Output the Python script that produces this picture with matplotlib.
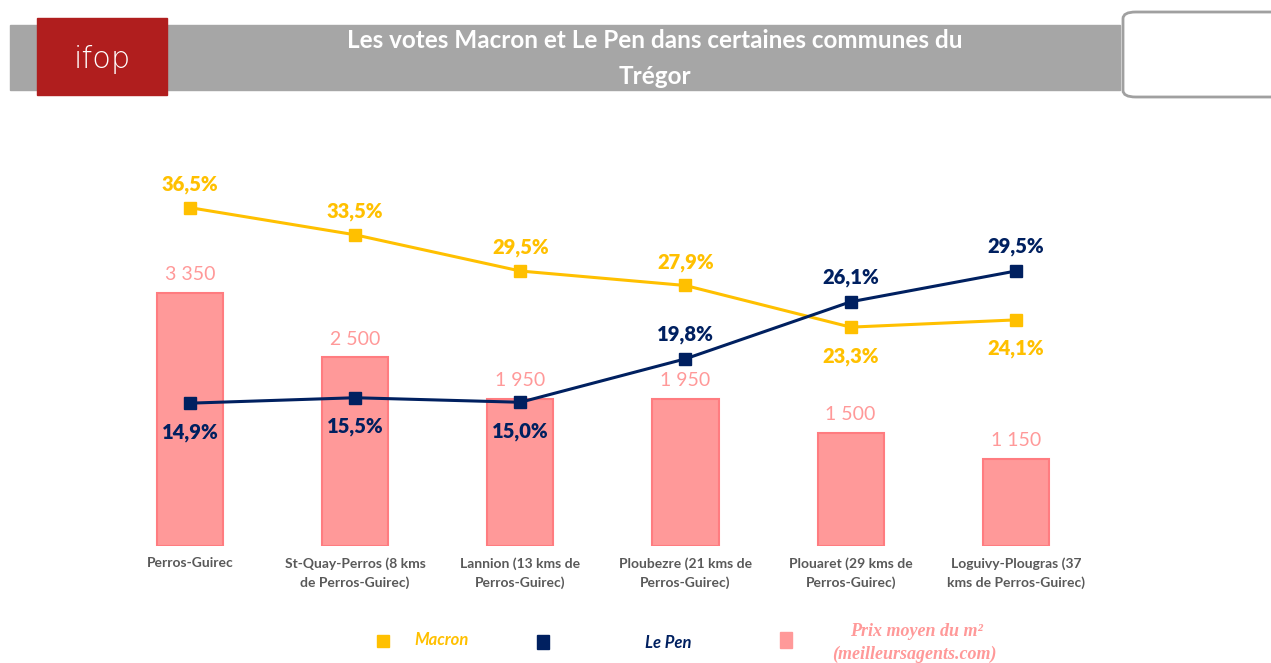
import matplotlib.pyplot as plt
from matplotlib.patches import Rectangle, FancyBboxPatch

plt.rcParams['font.family'] = ['Lato', 'DejaVu Sans']

communes = ['Perros-Guirec', 'St-Quay-Perros (8 kms\nde Perros-Guirec)',
            'Lannion (13 kms de\nPerros-Guirec)', 'Ploubezre (21 kms de\nPerros-Guirec)',
            'Plouaret (29 kms de\nPerros-Guirec)', 'Loguivy-Plougras (37\nkms de Perros-Guirec)']
prix = [3350, 2500, 1950, 1950, 1500, 1150]
prix_labels = ['3 350', '2 500', '1 950', '1 950', '1 500', '1 150']
macron = [36.5, 33.5, 29.5, 27.9, 23.3, 24.1]
lepen = [14.9, 15.5, 15.0, 19.8, 26.1, 29.5]
macron_above = [True, True, True, True, False, False]
lepen_above = [False, False, False, True, True, True]

c_macron = '#FFC000'
c_lepen = '#002060'
c_bar = '#FF9999'
c_edge = '#FF7C80'

fig = plt.figure(figsize=(12.71, 6.63), dpi=100)
W, H = 1271, 663

def fx(px):
    return px / W

def fy(py):
    return 1 - py / H

# header
fig.patches.append(Rectangle((fx(10), fy(90)), fx(1110), (90 - 25) / H,
                             transform=fig.transFigure, color='#A6A6A6', zorder=0))
fig.patches.append(Rectangle((fx(37), fy(95)), fx(130), (95 - 18) / H,
                             transform=fig.transFigure, color='#B01E1E', zorder=1))
fig.patches.append(FancyBboxPatch((fx(1123), fy(97)), fx(160), (97 - 12) / H,
                                  boxstyle='round,pad=0,rounding_size=0.01',
                                  transform=fig.transFigure, facecolor='white',
                                  edgecolor='#A0A0A0', linewidth=2, zorder=1))
fig.text(fx(102), fy(60), 'ifop', color='white', fontsize=22, ha='center', va='center',
         family='DejaVu Sans', fontweight='light', zorder=2)
fig.text(fx(655), fy(41), 'Les votes Macron et Le Pen dans certaines communes du',
         color='white', fontsize=17.5, fontweight='bold', ha='center', va='center')
fig.text(fx(655), fy(76), 'Trégor', color='white', fontsize=17.5, fontweight='bold',
         ha='center', va='center')

# main axes
left = fx(107.4)
width = 991 / W
bottom = fy(546)
height = (546 - 150) / H
ax = fig.add_axes([left, bottom, width, height])
x = list(range(len(communes)))
ax.bar(x, prix, width=0.4, color=c_bar, edgecolor=c_edge, linewidth=1.5)
ax.set_xlim(-0.5, 5.5)
ax.set_ylim(0, 396 / 0.0755)
for xi, v, lab in zip(x, prix, prix_labels):
    ax.annotate(lab, (xi, v), xytext=(0, 7), textcoords='offset points',
                ha='center', va='bottom', color=c_bar, fontsize=14)
ax.set_xticks(x)
ax.set_xticklabels(communes, fontsize=10, fontweight='bold', color='#595959',
                   linespacing=1.6)
ax.tick_params(axis='x', length=0, pad=8)
ax.set_yticks([])
for s in ax.spines.values():
    s.set_visible(False)

ax2 = ax.twinx()
ax2.set_ylim(-0.88, 42.87)
ax2.plot(x, macron, color=c_macron, lw=2.2, marker='s', ms=9, zorder=3)
ax2.plot(x, lepen, color=c_lepen, lw=2.2, marker='s', ms=9, zorder=3)
for xi, v, up in zip(x, macron, macron_above):
    ax2.annotate(f'{v:.1f}%'.replace('.', ','), (xi, v),
                 xytext=(0, 10 if up else -14), textcoords='offset points',
                 ha='center', va='bottom' if up else 'top', color=c_macron,
                 fontsize=14.5, fontweight='heavy')
for xi, v, up in zip(x, lepen, lepen_above):
    ax2.annotate(f'{v:.1f}%'.replace('.', ','), (xi, v),
                 xytext=(0, 11 if up else -14), textcoords='offset points',
                 ha='center', va='bottom' if up else 'top', color=c_lepen,
                 fontsize=14.5, fontweight='heavy')
ax2.set_yticks([])
for s in ax2.spines.values():
    s.set_visible(False)

# legend
fig.patches.append(Rectangle((fx(377), fy(647)), fx(12), 12 / H,
                             transform=fig.transFigure, color=c_macron))
fig.text(fx(414), fy(640), 'Macron', color=c_macron, fontsize=12, fontweight='bold',
         style='italic', va='center')
fig.patches.append(Rectangle((fx(537), fy(649)), fx(12), 14 / H,
                             transform=fig.transFigure, color=c_lepen))
fig.text(fx(645), fy(643), 'Le Pen', color=c_lepen, fontsize=12, fontweight='bold',
         style='italic', va='center')
fig.patches.append(Rectangle((fx(780), fy(648)), fx(12), 16 / H,
                             transform=fig.transFigure, color=c_bar))
fig.text(fx(916), fy(632), 'Prix moyen du m²', color=c_bar, fontsize=13,
         fontweight='bold', style='italic', ha='center', va='center',
         family='Liberation Serif')
fig.text(fx(914), fy(654), '(meilleursagents.com)', color=c_bar, fontsize=13,
         fontweight='bold', style='italic', ha='center', va='center',
         family='Liberation Serif')

fig.savefig('out.png', dpi=100)
